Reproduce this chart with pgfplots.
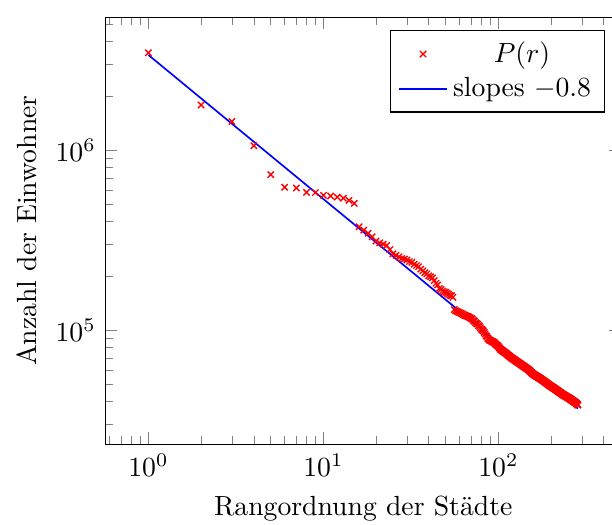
\documentclass[border=0pt]{standalone}
\usepackage{pgfplots}
\pgfplotsset{compat=1.18}
\begin{document}
\begin{tikzpicture}
\path[use as bounding box] (-38.1pt,-29.1pt) rectangle (182.9pt,160.4pt);
\begin{axis}[
  scale only axis,
  width=186.1pt, height=154.2pt,
  xmode=log, ymode=log,
  xlabel={Rangordnung der Städte},
  ylabel={Anzahl der Einwohner},
  legend cell align=center,
  legend pos=north east,
]
\addplot[only marks, mark=x, red, mark size=1.6pt, mark options={line width=0.5pt}] coordinates {
(1,3470000) (2,1780000) (3,1440000) (4,1056000) (5,730000)
(6,621000) (7,615000) (8,582000) (9,580000) (10,560000)
(11,555000) (12,548000) (13,540000) (14,525000) (15,505000)
(16,375000) (17,359000) (18,345000) (19,330000) (20,312000)
(21,305000) (22,300000) (23,295000) (24,280000) (25,265000)
(26,260000) (27,255000) (28,250000) (29,248000) (30,245000)
(31,240000) (32,238000) (33,232000) (34,228000) (35,225000)
(36,218000) (37,213000) (38,208000) (39,205000) (40,200000)
(41,198000) (42,195000) (43,188000) (44,182000) (45,178000)
(46,170000) (47,168000) (48,165000) (49,163000) (50,162000)
(51,160000) (52,158000) (53,156000) (54,155000) (55,152000)
(56,130000) (57,128000) (58,127000) (59,126000) (60,125000)
(61,124000) (62,123000) (63,122000) (64,121000) (65,120000)
(66,119500) (67,119000) (68,118000) (69,117000) (70,116000)
(71,115000) (72,113000) (73,112000) (74,110000) (75,109000)
(76,108000) (77,106000) (78,105000) (79,103000) (80,101000)
(81,100000) (82,99000) (83,97000) (84,95000) (85,93000)
(86,92000) (87,90000) (88,89000) (89,88000) (90,87500)
(91,87000) (92,86500) (93,86000) (94,85500) (95,85000)
(96,84000) (97,83000) (98,82500) (99,82000) (100,81000)
(101,80000) (102,79000) (103,78000) (104,77500) (105,77000)
(106,76500) (107,76000) (108,75500) (109,75000) (110,74500)
(111,74000) (112,73500) (113,73000) (114,72500) (115,72000)
(116,71500) (117,71000) (118,70500) (119,70000) (120,69500)
(121,69200) (122,68900) (123,68600) (124,68200) (125,67800)
(126,67400) (127,67000) (128,66700) (129,66400) (130,66000)
(131,65700) (132,65400) (133,65000) (134,64700) (135,64400)
(136,64000) (137,63700) (138,63400) (139,63100) (140,62800)
(141,62500) (142,62200) (143,61900) (144,61600) (145,61300)
(146,61000) (147,60700) (148,60400) (149,60100) (150,59800)
(151,59500) (152,59000) (153,58600) (154,58200) (155,57900)
(156,57600) (157,57300) (158,57000) (159,56800) (160,56500)
(161,56300) (162,56100) (163,55900) (164,55700) (165,55500)
(166,55300) (167,55100) (168,54900) (169,54700) (170,54500)
(171,54300) (172,54100) (173,53900) (174,53700) (175,53500)
(176,53300) (177,53100) (178,52900) (179,52700) (180,52500)
(181,52300) (182,52100) (183,51900) (184,51700) (185,51500)
(186,51300) (187,51100) (188,50900) (189,50700) (190,50500)
(191,50300) (192,50100) (193,49800) (194,49700) (195,49500)
(196,49400) (197,49200) (198,49000) (199,48900) (200,48700)
(201,48600) (202,48400) (203,48300) (204,48100) (205,48000)
(206,47800) (207,47700) (208,47500) (209,47400) (210,47200)
(211,47100) (212,46900) (213,46800) (214,46600) (215,46500)
(216,46300) (217,46200) (218,46000) (219,45900) (220,45700)
(221,45600) (222,45400) (223,45300) (224,45100) (225,45000)
(226,44900) (227,44700) (228,44600) (229,44500) (230,44300)
(231,44200) (232,44100) (233,43900) (234,43800) (235,43700)
(236,43600) (237,43500) (238,43400) (239,43300) (240,43200)
(241,43100) (242,43000) (243,42900) (244,42800) (245,42700)
(246,42600) (247,42500) (248,42400) (249,42300) (250,42200)
(251,42100) (252,42000) (253,41900) (254,41800) (255,41700)
(256,41600) (257,41500) (258,41400) (259,41300) (260,41200)
(261,41000) (262,40900) (263,40800) (264,40700) (265,40600)
(266,40500) (267,40400) (268,40300) (269,40200) (270,40100)
(271,40000) (272,39900) (273,39800) (274,39700) (275,39600)
(276,39500) (277,39400) (278,39300) (279,39100) (280,39000)
(281,38900) (282,38800) (283,38600) (284,38500) (285,38300)
};
\addlegendentry{$P(r)$}
\addplot[blue, semithick] coordinates {(1,3370000) (285,36630)};
\addlegendentry{slopes $-0.8$}
\end{axis}
\end{tikzpicture}
\end{document}
